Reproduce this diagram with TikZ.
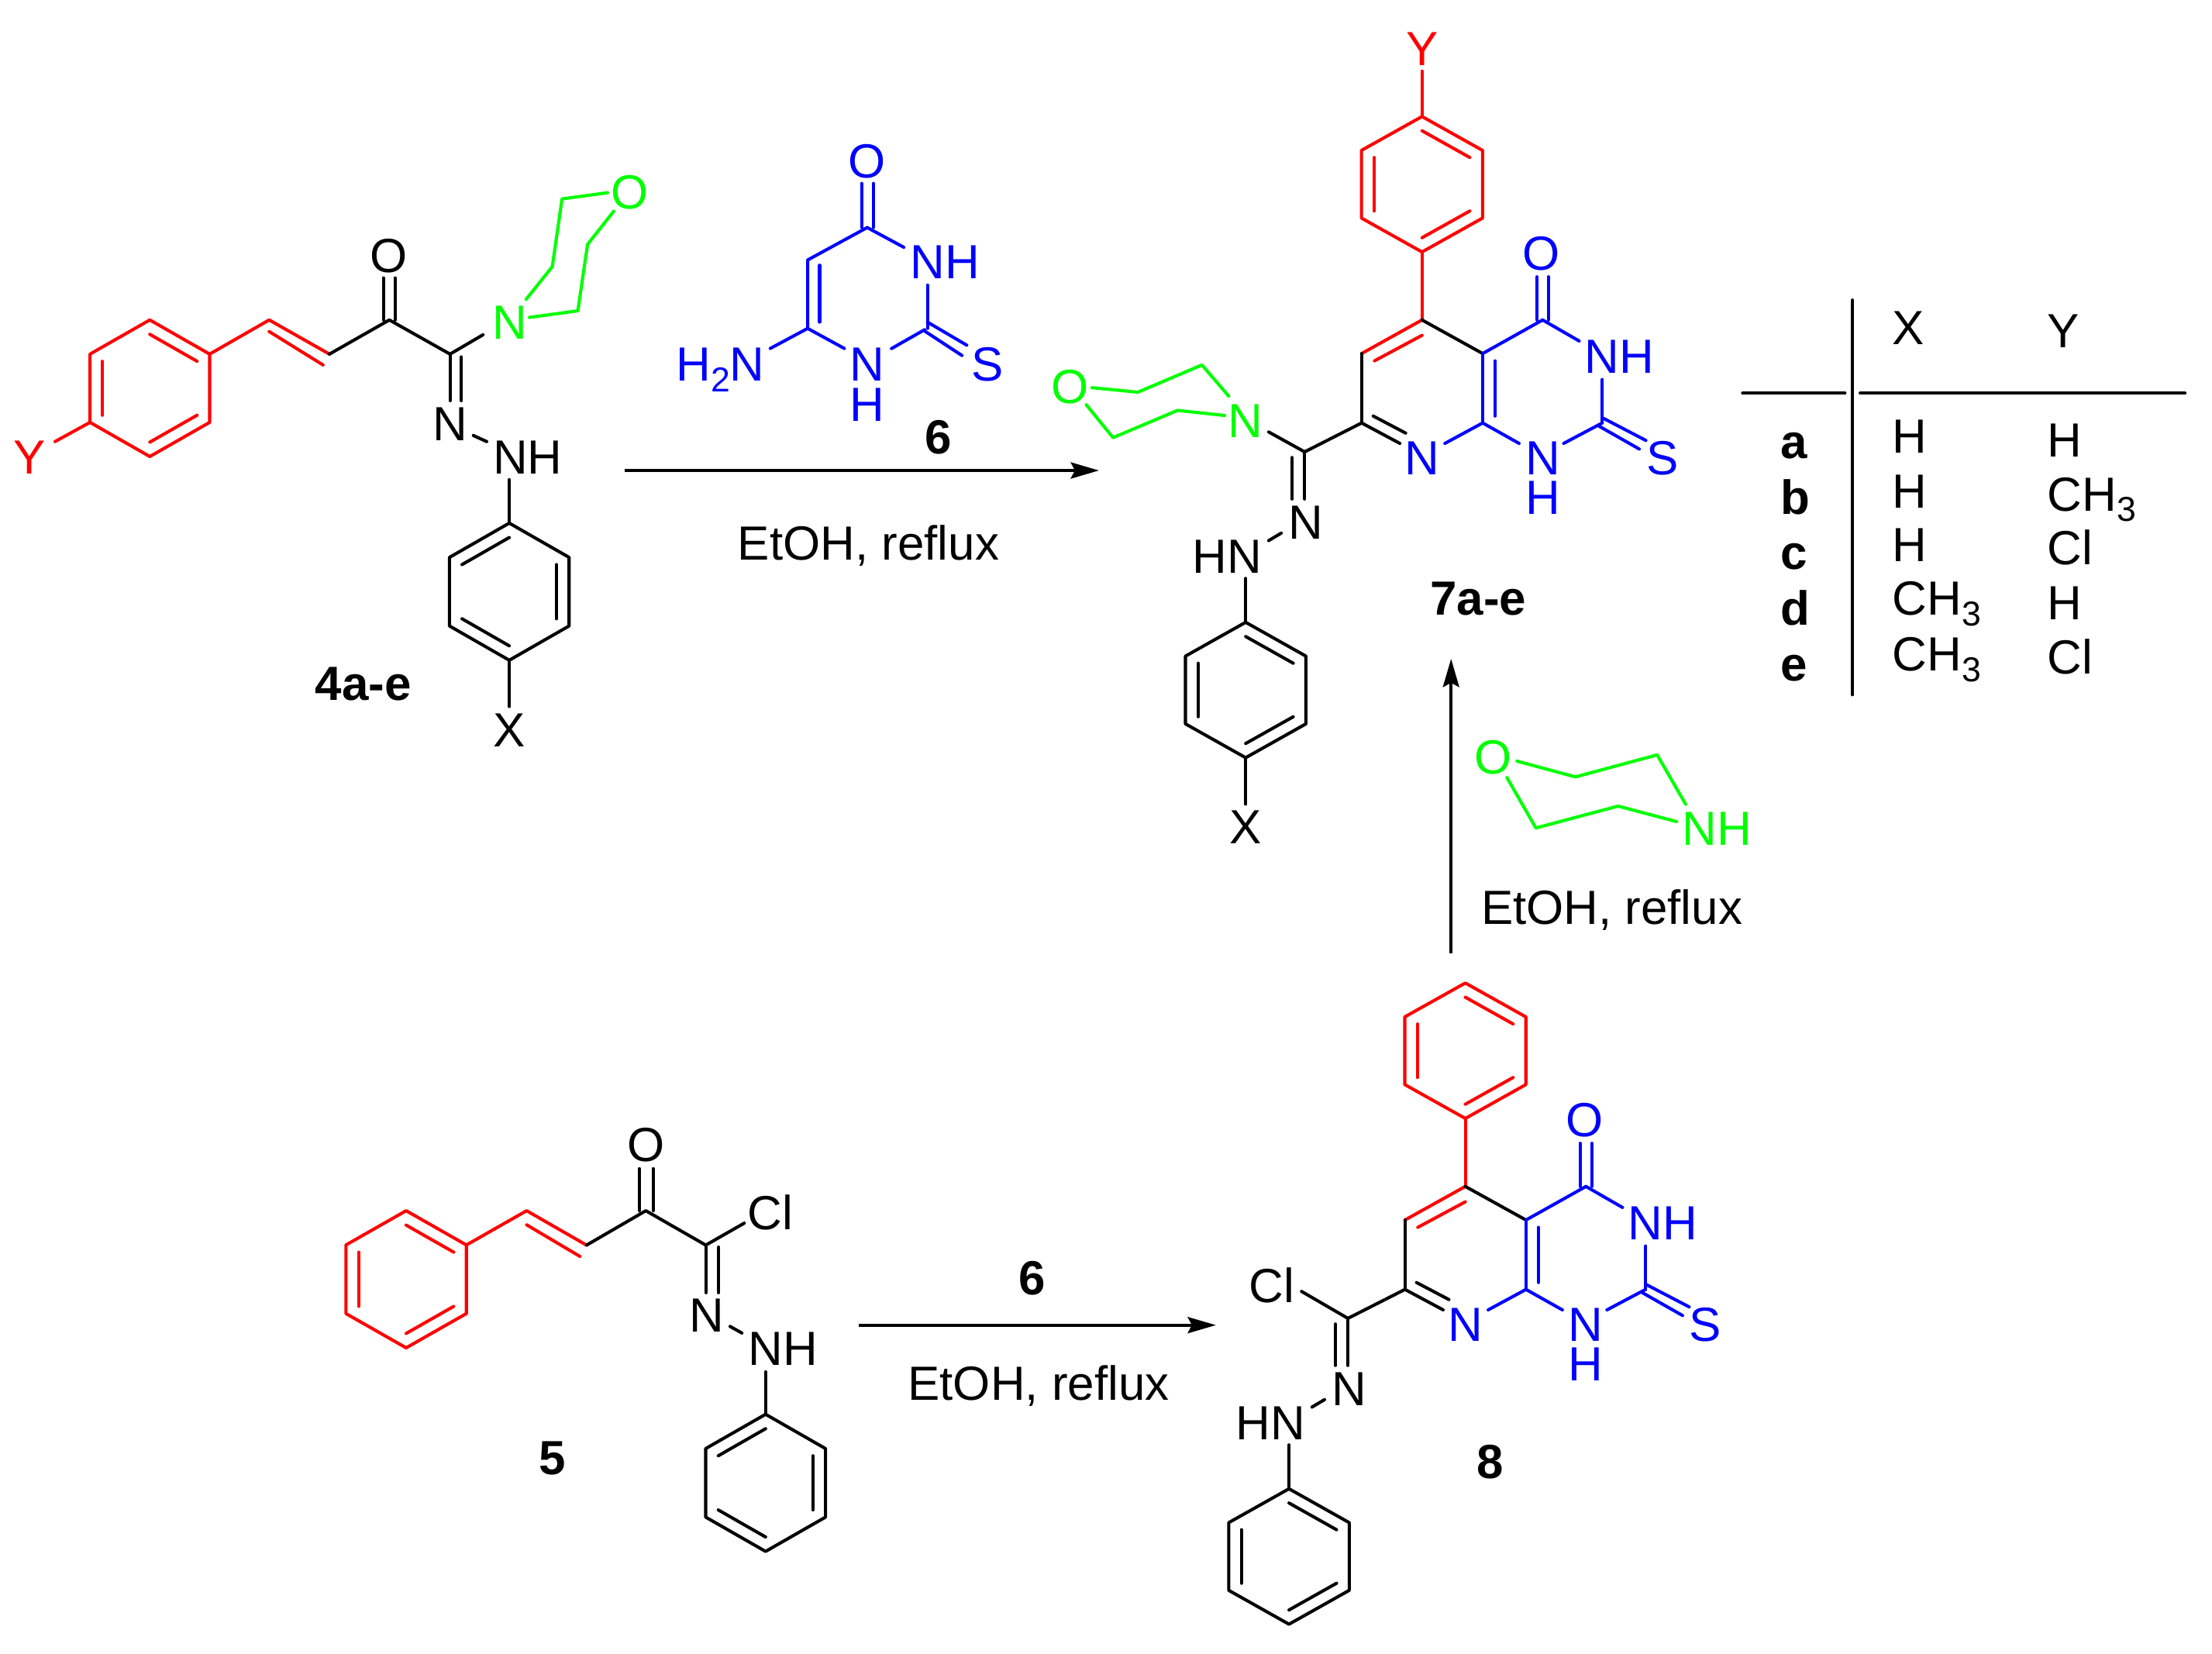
\documentclass[tikz,border=0pt]{standalone}
\usepackage{fontspec}
\setmainfont{Liberation Sans}
\usetikzlibrary{arrows.meta,calc}
\definecolor{cR}{RGB}{255,0,0}
\definecolor{cG}{RGB}{0,255,0}
\definecolor{cB}{RGB}{0,0,255}
\newcommand{\chemfont}{\fontsize{34}{40}\selectfont}
\newcommand{\chembold}{\fontsize{34}{40}\selectfont\bfseries}
\newcommand{\subdigit}[1]{\raisebox{-7.4pt}{\fontsize{24.5}{28}\selectfont #1}}
\tikzset{
  bond/.style={line width=2.25pt,line join=round,line cap=round},
  lab/.style={inner sep=0pt,outer sep=0pt,font=\chemfont,text height=24.3pt,text depth=0pt,anchor=center},
  blab/.style={lab,font=\chembold},
  rowlab/.style={inner sep=0pt,outer sep=0pt,font=\chembold,anchor=base west},
  rxn/.style={line width=2pt,-{Stealth[length=20pt,width=11.5pt,inset=3pt]}},
  rule/.style={line width=2.2pt,line cap=round}
}
% name, cx, cy, half-width, radius, colour, double bond pairs
\newcommand{\benz}[7]{%
  \coordinate (#1c) at (#2,#3);
  \coordinate (#1v1) at (#2,#3-#5);
  \coordinate (#1v2) at (#2+#4,#3-#5/2);
  \coordinate (#1v3) at (#2+#4,#3+#5/2);
  \coordinate (#1v4) at (#2,#3+#5);
  \coordinate (#1v5) at (#2-#4,#3+#5/2);
  \coordinate (#1v6) at (#2-#4,#3-#5/2);
  \draw[bond,#6] (#1v1)--(#1v2)--(#1v3)--(#1v4)--(#1v5)--(#1v6)--cycle;
  \foreach \p/\q in {#7} \draw[bond,#6] ($(#1v\p)!.21!(#1c)$)--($(#1v\q)!.21!(#1c)$);
}
% pyrido-pyrimidine core with both aryl rings, in the coordinates of 7a-e
\newcommand{\pyrcore}[1]{%
  \benz{#1T}{1008}{130.6}{42.9}{48}{cR}{1/2,3/4,5/6}
  \coordinate (#1c5) at (1008,226.8);
  \coordinate (#1c6) at (965.2,250.6);
  \coordinate (#1c7) at (965.2,299.8);
  \coordinate (#1c4a) at (1051,250.6);
  \coordinate (#1c8a) at (1051,299.8);
  \coordinate (#1c4) at (1093.5,226.8);
  \coordinate (#1c2) at (1135.8,299.8);
  \coordinate (#1cs) at (924.8,320.3);
  \node[lab,text=cB] (#1N8) at (1008,324.3) {N};
  \node[lab,text=cB] (#1N1) at (1093.5,324.3) {N};
  \node[lab,text=cB] (#1H1) at (1093.5,352.5) {H};
  \node[lab,text=cB,anchor=west] (#1N3) at (1123.5,252.6) {NH};
  \node[lab,text=cB] (#1O) at (1092.6,179.3) {O};
  \node[lab,text=cB] (#1S) at (1178.3,324.3) {S};
  \draw[bond,cR] (#1Tv4)--(#1c5);
  \draw[bond,cR] (#1c5)--(#1c6);
  \draw[bond,cR] (1008,237.7)--(974.3,255.8);
  \draw[bond] (#1c5)--(#1c4a);
  \draw[bond] (#1c6)--(#1c7);
  \draw[bond] (#1c7)--(992.3,314.3);
  \draw[bond] (973.4,294.9)--(996.4,307);
  \draw[bond,cB] (#1c4a)--(#1c4);
  \draw[bond,cB] (#1c4a)--(#1c8a);
  \draw[bond,cB] (1059.8,255.8)--(1059.8,294.9);
  \draw[bond,cB] (#1c8a)--(1024.2,314.3);
  \draw[bond,cB] (#1c8a)--(1076.8,314.3);
  \draw[bond,cB] (1108.4,314.3)--(#1c2);
  \draw[bond,cB] (1135.8,269)--(#1c2);
  \draw[bond,cB] (#1c4)--(1119.4,241.7);
  \draw[bond,cB] (1089.4,196.2)--(1089.4,226.8);
  \draw[bond,cB] (1097.7,196.2)--(1097.7,226.8);
  \draw[bond,cB] (1135.8,296.1)--(1166.7,312.2);
  \draw[bond,cB] (1133.7,302.2)--(1162,318.3);
  \draw[bond] (#1c7)--(#1cs);
  \draw[bond] (#1cs)--(924.8,353.7);
  \draw[bond] (916,324.3)--(916,353.7);
  \node[lab] (#1Nh) at (925.5,370) {N};
  \node[lab,anchor=east] (#1HN) at (894.5,394) {HN};
  \draw[bond] (908.2,377.9)--(899.3,383.2);
  \benz{#1B}{883}{489.1}{42.7}{48}{black}{1/2,3/4,5/6}
  \draw[bond] (883,410)--(#1Bv1);
}
\begin{document}
\begin{tikzpicture}[x=1pt,y=-1pt]
\useasboundingbox (0,0) rectangle (1568,1172.4);

%% ---------- 4a-e ----------
\benz{A}{106.2}{275.2}{42.4}{48.4}{cR}{1/2,3/4,5/6}
\benz{B}{361}{419.4}{42.4}{48.6}{black}{6/1,2/3,4/5}
\coordinate (a1) at (190.8,226.8);
\coordinate (a2) at (233.5,251);
\coordinate (a3) at (276,226.8);
\coordinate (a4) at (319,251);
\node[lab,text=cR] (AY) at (21,324) {Y};
\node[lab] (AO) at (275.5,180.7) {O};
\node[lab] (AN) at (319,300) {N};
\node[lab,anchor=west] (ANH) at (349.5,324) {NH};
\node[lab] (AX) at (361,517) {X};
\node[lab,text=cG] (AMN) at (361.5,228) {N};
\node[lab,text=cG] (AMO) at (446.4,136) {O};
\node[blab] (L4) at (257.6,484) {4a-e};
\draw[bond,cR] (Av5)--(39,313);
\draw[bond,cR] (Av2)--(a1)--(a2);
\draw[bond,cR] (190.8,235)--(229,258.7);
\draw[bond] (a2)--(a3)--(a4);
\draw[bond] (271.8,197)--(271.8,226.8);
\draw[bond] (280,197)--(280,226.8);
\draw[bond] (a4)--(319,284);
\draw[bond] (327,253)--(327,284);
\draw[bond] (335.5,308.7)--(345,313);
\draw[bond] (361,340)--(Bv1);
\draw[bond] (Bv4)--(361,500.8);
\draw[bond] (a4)--(342.4,237.3);
\draw[bond,cG] (372.9,212.2)--(391.5,189)--(398.4,141)--(430.7,136.6);
\draw[bond,cG] (375.3,225)--(409.6,220.3)--(416.5,173.2)--(435.1,149.7);

%% ---------- 6 ----------
\coordinate (s1) at (614.7,161.3);
\coordinate (s2) at (572.5,184.3);
\coordinate (s3) at (572.5,232.8);
\coordinate (s4) at (657.4,232.8);
\node[lab,text=cB] (SO) at (614.7,113.7) {O};
\node[lab,text=cB,anchor=west] (SNH) at (645.5,185.4) {NH};
\node[lab,text=cB] (SN) at (614.7,258) {N};
\node[lab,text=cB] (SH) at (614.7,286.4) {H};
\node[lab,text=cB] (SS) at (700,258) {S};
\node[lab,text=cB,anchor=east] (SNH2) at (542,258) {H\subdigit{2}N};
\node[blab] (L6) at (665,309.6) {6};
\draw[bond,cB] (610.8,130)--(610.8,161.3);
\draw[bond,cB] (619,130)--(619,161.3);
\draw[bond,cB] (s1)--(640.7,175.3);
\draw[bond,cB] (657.4,202.1)--(s4);
\draw[bond,cB] (657.4,228.3)--(685.3,244.7);
\draw[bond,cB] (654.9,234.3)--(681.9,252);
\draw[bond,cB] (655.4,233.7)--(631.9,247.1);
\draw[bond,cB] (598.5,247)--(s3);
\draw[bond,cB] (s3)--(s2)--(s1);
\draw[bond,cB] (581,188)--(581,228.3);
\draw[bond,cB] (s3)--(546,247);

%% ---------- first arrow ----------
\coordinate (r1s) at (443,333.5);
\coordinate (r1e) at (779,333.5);
\draw[rxn] (r1s)--(r1e);
\node[lab] (E1) at (615.6,384.7) {EtOH, reflux};

%% ---------- 7a-e ----------
\pyrcore{P}
\node[lab,text=cR] (PY) at (1008,34.2) {Y};
\draw[bond,cR] (1008,50.4)--(PTv1);
\draw[bond] (899.3,306.2)--(Pcs);
\node[lab,text=cG] (PMN) at (883,298.1) {N};
\node[lab,text=cG] (PMO) at (758.4,274) {O};
\draw[bond,cG] (871,280.8)--(852,258.7)--(806.6,278)--(774.1,274.8);
\draw[bond,cG] (868.1,294.5)--(834.7,290.9)--(789,310.2)--(770,286.9);
\draw[bond] (PBv4)--(883,570);
\node[lab] (PX) at (883,586) {X};
\node[blab] (L7) at (1047.8,424) {7a-e};

%% ---------- table ----------
\coordinate (t1) at (1313.2,212.7);
\coordinate (t2) at (1313.2,492.5);
\coordinate (t3) at (1235.2,278.7);
\coordinate (t4) at (1307.8,278.7);
\coordinate (t5) at (1318.6,278.7);
\coordinate (t6) at (1548.8,278.7);
\draw[rule] (t1)--(t2);
\draw[rule] (t3)--(t4);
\draw[rule] (t5)--(t6);
\node[lab,anchor=west] (hX) at (1341.5,232.2) {X};
\node[lab,anchor=west] (hY) at (1451.3,234.3) {Y};
\node[rowlab] (ra) at (1262,325) {a};
\node[rowlab] (rb) at (1262,364.3) {b};
\node[rowlab] (rc) at (1262,403.7) {c};
\node[rowlab] (rd) at (1262,443.1) {d};
\node[rowlab] (re) at (1262,482.7) {e};
\node[lab,anchor=west] (x1) at (1341.5,309) {H};
\node[lab,anchor=west] (x2) at (1341.5,347.8) {H};
\node[lab,anchor=west] (x3) at (1341.5,386) {H};
\node[lab,anchor=west] (x4) at (1341.5,424) {CH\subdigit{3}};
\node[lab,anchor=west] (x5) at (1341.5,463.5) {CH\subdigit{3}};
\node[lab,anchor=west] (y1) at (1451.3,311.5) {H};
\node[lab,anchor=west] (y2) at (1451.3,350) {CH\subdigit{3}};
\node[lab,anchor=west] (y3) at (1451.3,388) {Cl};
\node[lab,anchor=west] (y4) at (1451.3,427.3) {H};
\node[lab,anchor=west] (y5) at (1451.3,465.6) {Cl};

%% ---------- morpholine and upward arrow ----------
\coordinate (r2s) at (1028.6,675.7);
\coordinate (r2e) at (1028.6,467);
\draw[rxn] (r2s)--(r2e);
\node[lab,text=cG] (MO) at (1058.5,536.6) {O};
\node[lab,text=cG,anchor=west] (MNH) at (1192.5,587) {NH};
\draw[bond,cG] (1075.3,539.5)--(1116.7,550.7)--(1174.7,535.1)--(1194.9,570.1);
\draw[bond,cG] (1068.2,551.2)--(1088.7,586.9)--(1147,571.4)--(1188.5,582.4);
\node[lab] (E2) at (1142.5,642.8) {EtOH, reflux};

%% ---------- 5 ----------
\benz{E}{287.9}{906.8}{42.7}{48.6}{cR}{1/2,3/4,5/6}
\benz{F}{542.7}{1051.1}{42.45}{48.6}{black}{6/1,2/3,4/5}
\coordinate (b1) at (373.3,858.2);
\coordinate (b2) at (415.8,882.6);
\coordinate (b3) at (457.8,858.2);
\coordinate (b4) at (500.3,882.6);
\node[lab] (FO) at (457.8,810.9) {O};
\node[lab] (FCl) at (546.1,859.2) {Cl};
\node[lab] (FN) at (500.7,931.8) {N};
\node[lab,anchor=west] (FNH) at (530.5,955.7) {NH};
\node[blab] (L5) at (391.8,1033.3) {5};
\draw[bond,cR] (Ev2)--(b1)--(b2);
\draw[bond,cR] (373.3,868.2)--(411.1,890.6);
\draw[bond] (b2)--(b3)--(b4);
\draw[bond] (453.2,828.4)--(453.2,858.2);
\draw[bond] (462.9,828.4)--(462.9,858.2);
\draw[bond] (b4)--(527.6,867);
\draw[bond] (b4)--(500.3,916.3);
\draw[bond] (509.5,884)--(509.5,916.3);
\draw[bond] (517.5,940.2)--(525.9,944.9);
\draw[bond] (542.7,972.4)--(Fv1);

%% ---------- second arrow ----------
\coordinate (r3s) at (608.8,939.3);
\coordinate (r3e) at (861.9,939.3);
\draw[rxn] (r3s)--(r3e);
\node[blab] (L6b) at (731.6,905.5) {6};
\node[lab] (E3) at (736.2,980.1) {EtOH, reflux};

%% ---------- 8 ----------
\begin{scope}[shift={(30.7,614.2)}]
  \pyrcore{Q}
\end{scope}
\node[lab] (QCl) at (901.5,911.3) {Cl};
\draw[bond] (922.6,915.4)--(Qcs);
\node[blab] (L8) at (1056.1,1036) {8};
\end{tikzpicture}
\end{document}
